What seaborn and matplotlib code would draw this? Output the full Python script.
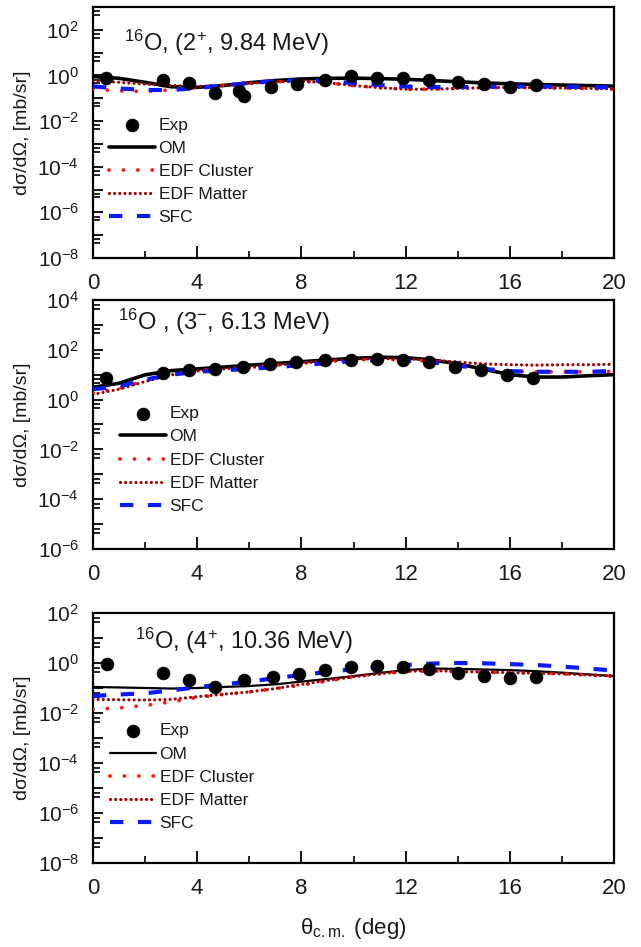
import numpy as np
import pandas as pd
import matplotlib
matplotlib.use("Agg")
import matplotlib.pyplot as plt
import matplotlib.ticker as mticker
import seaborn as sns

# ---------------- data ----------------
theta = [0, 1, 2, 3, 4, 5, 6, 7, 8, 9, 10, 11, 12, 13, 14, 15, 16, 17, 18, 19, 20]

# Panel 1: 16O (2+, 9.84 MeV)
om1 = [0.9, 0.75, 0.5, 0.32, 0.3, 0.36, 0.48, 0.6, 0.7, 0.75, 0.76, 0.73, 0.68, 0.6, 0.53, 0.47, 0.43, 0.4, 0.38, 0.36, 0.34]
sfc1 = [0.33, 0.27, 0.23, 0.23, 0.28, 0.36, 0.46, 0.57, 0.62, 0.56, 0.46, 0.38, 0.33, 0.31, 0.31, 0.32, 0.33, 0.33, 0.32, 0.31, 0.3]
clu1 = [0.25, 0.21, 0.2, 0.23, 0.3, 0.37, 0.45, 0.53, 0.56, 0.48, 0.36, 0.29, 0.25, 0.25, 0.27, 0.29, 0.3, 0.29, 0.28, 0.27, 0.25]
mat1 = [0.6, 0.5, 0.42, 0.36, 0.33, 0.37, 0.45, 0.53, 0.56, 0.48, 0.36, 0.29, 0.25, 0.25, 0.27, 0.29, 0.3, 0.29, 0.28, 0.27, 0.26]
exp1_x = [0.5, 2.7, 3.7, 4.7, 5.6, 5.8, 6.85, 7.85, 8.9, 9.9, 10.9, 11.9, 12.9, 14.0, 15.0, 16.0, 17.0]
exp1_y = [0.8, 0.63, 0.45, 0.17, 0.2, 0.13, 0.3, 0.41, 0.63, 0.93, 0.8, 0.8, 0.63, 0.5, 0.42, 0.32, 0.37]

# Panel 2: 16O (3-, 6.13 MeV)
om2 = [3.1, 4.5, 9.8, 14.5, 17, 20, 24, 28, 33, 39, 45, 50, 48, 39, 27, 16.5, 10, 8, 8, 9, 10]
sfc2 = [2.6, 3.3, 6.3, 10, 13, 15, 17, 20, 24, 29, 35, 39, 37, 32, 23, 17, 13.8, 13, 13, 13, 14]
clu2 = [1.8, 2.8, 5.6, 10, 14.5, 17, 19, 24, 29, 34, 39, 41, 39, 35, 27, 17, 14, 13, 13, 13, 13.5]
mat2 = [1.6, 2.6, 5.3, 9.8, 14, 17, 19, 24, 29, 35, 41, 44, 43, 39, 32, 27, 25, 24, 25, 25, 26]
exp2_x = [0.5, 2.7, 3.7, 4.7, 5.75, 6.8, 7.8, 8.9, 9.9, 10.9, 11.9, 12.9, 13.9, 14.9, 15.9, 16.9]
exp2_y = [7, 12, 15, 16.5, 21, 27, 32, 39, 39, 44, 39, 33, 21, 15.5, 9.3, 7.6]

# Panel 3: 16O (4+, 10.36 MeV)
om3 = [0.11, 0.105, 0.1, 0.095, 0.1, 0.11, 0.12, 0.14, 0.18, 0.23, 0.3, 0.4, 0.52, 0.6, 0.58, 0.55, 0.52, 0.47, 0.41, 0.35, 0.3]
sfc3 = [0.048, 0.055, 0.061, 0.08, 0.107, 0.14, 0.18, 0.25, 0.33, 0.44, 0.56, 0.7, 0.83, 0.95, 1.0, 0.97, 0.9, 0.83, 0.72, 0.6, 0.5]
clu3 = [0.014, 0.016, 0.02, 0.028, 0.042, 0.055, 0.07, 0.095, 0.13, 0.19, 0.28, 0.37, 0.46, 0.48, 0.46, 0.43, 0.41, 0.39, 0.37, 0.33, 0.3]
mat3 = [0.035, 0.034, 0.033, 0.035, 0.045, 0.056, 0.07, 0.095, 0.14, 0.2, 0.28, 0.37, 0.46, 0.5, 0.46, 0.43, 0.41, 0.39, 0.37, 0.33, 0.3]
exp3_x = [0.53, 2.7, 3.7, 4.7, 5.8, 6.9, 7.9, 8.9, 9.9, 10.9, 11.9, 12.9, 14.0, 15.0, 16.0, 17.0]
exp3_y = [0.9, 0.41, 0.21, 0.107, 0.2, 0.27, 0.36, 0.52, 0.67, 0.76, 0.72, 0.58, 0.39, 0.3, 0.24, 0.28]

titles = [r"$^{16}$O, (2$^{+}$, 9.84 MeV)",
          r"$^{16}$O , (3$^{-}$, 6.13 MeV)",
          r"$^{16}$O, (4$^{+}$, 10.36 MeV)"]
ylims = [(1e-8, 1e3), (1e-6, 1e4), (1e-8, 1e2)]
xticks = [0, 4, 8, 12, 16, 20]

# ---------------- style ----------------
sns.set_theme(style="white")
plt.rcParams["font.family"] = ["Liberation Sans", "DejaVu Sans"]
plt.rcParams["mathtext.fontset"] = "custom"
plt.rcParams["mathtext.rm"] = "Liberation Sans"
plt.rcParams["mathtext.it"] = "Liberation Sans:italic"
plt.rcParams["mathtext.bf"] = "Liberation Sans:bold"
plt.rcParams["mathtext.sf"] = "Liberation Sans"

TXT = "#1a1a1a"
fig = plt.figure(figsize=(6.41, 9.47), dpi=100)
L, W = 0.145, 0.813
boxes = [(0.7276, 0.265), (0.4203, 0.263), (0.0887, 0.264)]
title_pos = [(0.06, 0.857), (0.048, 0.91), (0.08, 0.89)]
leg_pos = [(0.031, 0.131), (0.052, 0.141), (0.033, 0.128)]
om_lw = [2.6, 2.6, 1.6]

panels = [
    (om1, clu1, mat1, sfc1, exp1_x, exp1_y),
    (om2, clu2, mat2, sfc2, exp2_x, exp2_y),
    (om3, clu3, mat3, sfc3, exp3_x, exp3_y),
]

for i, (om, clu, mat, sfc, ex, ey) in enumerate(panels):
    b, h = boxes[i]
    ax = fig.add_axes([L, b, W, h])
    df = pd.DataFrame({"theta": theta, "OM": om, "EDF Cluster": clu,
                       "EDF Matter": mat, "SFC": sfc})
    sns.lineplot(data=df, x="theta", y="OM", ax=ax, color="black",
                 linewidth=om_lw[i], label="OM", zorder=3)
    sns.lineplot(data=df, x="theta", y="EDF Cluster", ax=ax, color="#ff1a1a",
                 linewidth=2.8, linestyle=(0, (0.01, 3.7)), label="EDF Cluster",
                 dash_capstyle="round", zorder=4)
    sns.lineplot(data=df, x="theta", y="EDF Matter", ax=ax, color="#a00000",
                 linewidth=2.3, linestyle=(0, (0.01, 1.6)), label="EDF Matter",
                 dash_capstyle="round", zorder=4)
    sns.lineplot(data=df, x="theta", y="SFC", ax=ax, color="#0a1aff",
                 linewidth=3.0, linestyle=(0, (3.2, 3.5)), label="SFC", zorder=4)
    dexp = pd.DataFrame({"theta": ex, "Exp": ey})
    sns.scatterplot(data=dexp, x="theta", y="Exp", ax=ax, color="black",
                    s=85, edgecolor="black", linewidth=0.5, label="Exp", zorder=5)

    ax.set_yscale("log")
    ax.set_xlim(0, 20)
    ax.set_ylim(*ylims[i])
    ax.set_xticks(xticks)
    ax.xaxis.set_minor_locator(mticker.MultipleLocator(2))
    ax.yaxis.set_major_locator(mticker.LogLocator(base=10, numticks=30))
    ax.yaxis.set_minor_locator(mticker.LogLocator(base=10, subs=(4.5, 6.5), numticks=30))
    ax.yaxis.set_minor_formatter(mticker.NullFormatter())

    def fmt(v, pos):
        e = int(round(np.log10(v)))
        return r"$10^{%d}$" % e if e % 2 == 0 else ""
    ax.yaxis.set_major_formatter(mticker.FuncFormatter(fmt))

    ax.tick_params(axis="both", which="both", direction="in", left=True,
                   bottom=True, right=False, top=False,
                   color="black", labelcolor=TXT)
    ax.tick_params(axis="x", which="major", length=8.5, width=1.3, pad=11, labelsize=16)
    ax.tick_params(axis="y", which="major", length=7.5, width=1.3, pad=10, labelsize=15)
    ax.tick_params(axis="both", which="minor", length=5, width=1.2)
    for sp in ax.spines.values():
        sp.set_color("black")
        sp.set_linewidth(1.6)

    ax.set_ylabel("dσ/dΩ, [mb/sr]", fontsize=14, color=TXT)
    ax.yaxis.set_label_coords(-0.118, 0.5)
    if i == 2:
        ax.set_xlabel(r"θ$_{\mathrm{c.m.}}$ (deg)", fontsize=16, color=TXT, labelpad=12)
    else:
        ax.set_xlabel("")

    ax.text(title_pos[i][0], title_pos[i][1], titles[i], transform=ax.transAxes,
            fontsize=17, va="center", ha="left", color=TXT)

    handles, labels = ax.get_legend_handles_labels()
    order = ["Exp", "OM", "EDF Cluster", "EDF Matter", "SFC"]
    hmap = dict(zip(labels, handles))
    ax.legend([hmap[k] for k in order], order, loc="lower left",
              bbox_to_anchor=leg_pos[i], frameon=False, fontsize=12.5,
              handlelength=2.65, handletextpad=0.2, labelspacing=0.46,
              borderaxespad=0.0, borderpad=0.0, labelcolor=TXT)

fig.savefig("out.png", dpi=100)
